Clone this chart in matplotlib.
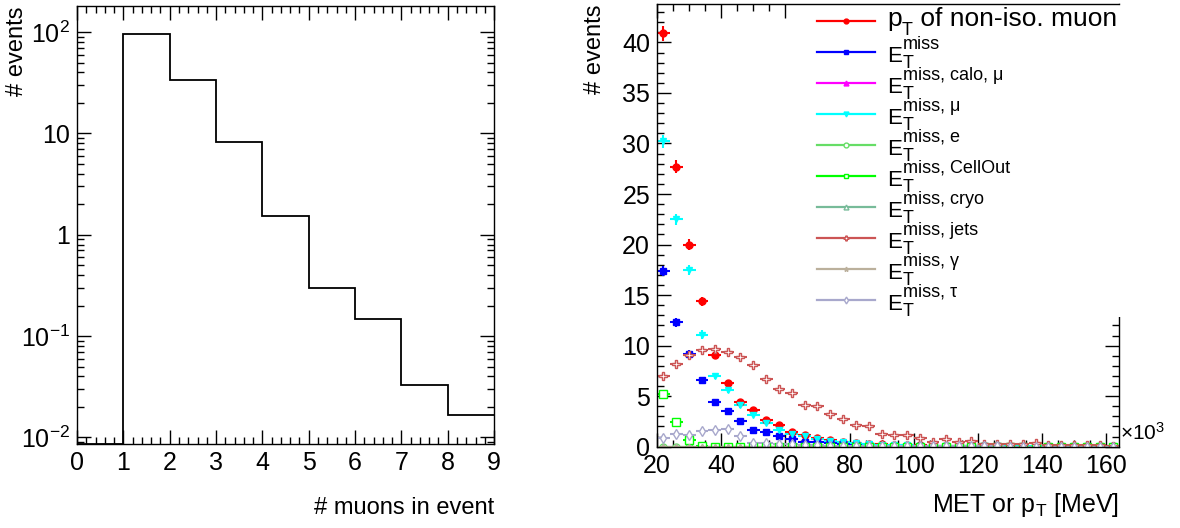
import numpy as np
import matplotlib
matplotlib.use('Agg')
import matplotlib.pyplot as plt
from matplotlib.ticker import MultipleLocator, FixedLocator, FixedFormatter, LogLocator, NullFormatter, FuncFormatter
from matplotlib.lines import Line2D
from matplotlib.patches import Rectangle

plt.rcParams['font.family'] = ['Liberation Sans', 'DejaVu Sans']
plt.rcParams['mathtext.default'] = 'regular'

# muon multiplicity per event
n_muons_edges = np.arange(0, 10)
n_muons_counts = [0.0, 95.0, 33.8, 8.15, 1.53, 0.30, 0.149, 0.033, 0.0166]
log_ticks = [1e-2, 1e-1, 1, 10, 100]
log_labels = ['$10^{-2}$', '$10^{-1}$', '1', '10', '$10^{2}$']

# MET components and muon pT, 4 GeV bins from 20 to 164 GeV (values in MeV)
met_edges = np.arange(20e3, 164e3 + 1, 4e3)
event_weight = 0.0144

pt_muon = [40.9, 27.7, 20.0, 14.4, 9.1, 6.3, 4.4, 3.6, 2.6, 2.1, 1.45, 1.2,
           0.9, 0.7, 0.5, 0.4, 0.3, 0.25, 0.2, 0.15, 0.12, 0.1, 0.1, 0.08,
           0.06, 0.05, 0.05, 0.04, 0.04, 0.03, 0.05, 0.03, 0.02, 0.02, 0.02, 0.02]
met_total = [17.4, 12.3, 9.2, 6.6, 4.4, 3.5, 2.5, 1.65, 1.5, 1.05, 0.75, 0.5,
             0.45, 0.35, 0.25, 0.2, 0.15, 0.1, 0.08, 0.06, 0.05, 0.04, 0.03, 0.03,
             0.02, 0.02, 0.02, 0.01, 0.01, 0.01, 0.01, 0.01, 0.0, 0.0, 0.0, 0.0]
met_calo_mu = [0.0] * 36
met_mu = [30.2, 22.5, 17.5, 11.1, 7.0, 5.6, 4.1, 3.1, 2.3, 1.7, 1.3, 1.05,
          0.75, 0.6, 0.5, 0.35, 0.25, 0.2, 0.15, 0.12, 0.1, 0.08, 0.07, 0.06,
          0.05, 0.05, 0.04, 0.04, 0.03, 0.03, 0.03, 0.03, 0.02, 0.02, 0.02, 0.02]
met_e = [0.0] * 36
met_cellout = [5.2, 2.4, 0.65, 0.07, 0.0, 0.0, 0.0, 0.0, 0.0, 0.0, 0.0, 0.0,
               0.0, 0.0, 0.0, 0.0, 0.0, 0.0, 0.0, 0.0, 0.0, 0.0, 0.0, 0.0,
               0.0, 0.0, 0.0, 0.0, 0.0, 0.0, 0.0, 0.0, 0.0, 0.0, 0.0, 0.0]
met_cryo = [0.0] * 36
met_jets = [7.0, 8.2, 9.05, 9.6, 9.7, 9.4, 8.9, 8.1, 6.7, 5.7, 5.3, 4.15,
            4.0, 3.2, 2.7, 2.1, 2.05, 1.25, 1.2, 1.2, 0.9, 0.5, 0.75, 0.43,
            0.55, 0.25, 0.22, 0.22, 0.22, 0.32, 0.15, 0.2, 0.15, 0.15, 0.15, 0.1]
met_gamma = [0.0] * 36
met_tau = [0.9, 1.25, 1.15, 1.6, 1.65, 1.75, 1.05, 0.4, 0.35, 0.3, 0.25, 0.2,
           0.15, 0.1, 0.1, 0.08, 0.05, 0.05, 0.04, 0.03, 0.03, 0.02, 0.02, 0.02,
           0.02, 0.02, 0.02, 0.01, 0.01, 0.01, 0.01, 0.01, 0.01, 0.01, 0.01, 0.01]

# legend text: (base, subscript, superscript, rest)
legend_parts = [('p', 'T', '', ' of non-iso. muon'),
                ('E', 'T', 'miss', ''),
                ('E', 'T', 'miss, calo, μ', ''),
                ('E', 'T', 'miss, μ', ''),
                ('E', 'T', 'miss, e', ''),
                ('E', 'T', 'miss, CellOut', ''),
                ('E', 'T', 'miss, cryo', ''),
                ('E', 'T', 'miss, jets', ''),
                ('E', 'T', 'miss, γ', ''),
                ('E', 'T', 'miss, τ', '')]
colors = ['#ff0000', '#0000ff', '#ff00ff', '#00ffff', '#66dd66',
          '#00ff00', '#77bb99', '#cc5555', '#bbb09c', '#a8a8cc']
markers = ['o', 's', '^', 'v', 'o', 's', '^', 'P', '*', 'd']
filled = [True, True, True, True, False, False, False, False, True, False]
msizes = [5, 5, 4.5, 5, 5, 6, 5, 6, 4, 5]

all_series = [pt_muon, met_total, met_calo_mu, met_mu, met_e,
              met_cellout, met_cryo, met_jets, met_gamma, met_tau]

fig = plt.figure(figsize=(11.8, 5.28), dpi=100)

# ---- left: number of muons ----
ax1 = fig.add_axes([0.0653, 0.1591, 0.3534, 0.8295])
ymin1, ymax1 = 0.0086, 181
draw_counts = np.clip(n_muons_counts, ymin1 * 0.999, None)
ax1.stairs(draw_counts, n_muons_edges, color='black', lw=1.3, baseline=None)
ax1.set_yscale('log')
ax1.set_xlim(0, 9)
ax1.set_ylim(ymin1, ymax1)
ax1.xaxis.set_major_locator(MultipleLocator(1))
ax1.xaxis.set_minor_locator(MultipleLocator(0.2))
ax1.yaxis.set_major_locator(FixedLocator(log_ticks))
ax1.yaxis.set_major_formatter(FixedFormatter(log_labels))
ax1.yaxis.set_minor_locator(LogLocator(base=10, subs=np.arange(2, 10)))
ax1.yaxis.set_minor_formatter(NullFormatter())
ax1.set_xlabel('# muons in event', fontsize=17, loc='right')
ax1.xaxis.set_label_coords(1.0, -0.121)
ax1.set_ylabel('# events', fontsize=17, loc='top')
ax1.yaxis.set_label_coords(-0.118, 1.0)

# ---- right: MET components ----
ax2 = fig.add_axes([0.5568, 0.154, 0.3915, 0.8384])
centers = 0.5 * (met_edges[:-1] + met_edges[1:])
half_w = 0.5 * (met_edges[1] - met_edges[0])
for vals, col, mk, fl, ms in zip(all_series, colors, markers, filled, msizes):
    v = np.asarray(vals)
    ax2.errorbar(centers, v, xerr=half_w, yerr=np.sqrt(v * event_weight),
                 fmt=mk, color=col, ms=ms, mfc=col if fl else 'white',
                 mec=col, mew=1.0, elinewidth=1.5, capsize=0)
ax2.set_xlim(met_edges[0], met_edges[-1])
ax2.set_ylim(0, 43.8)
ax2.xaxis.set_major_locator(MultipleLocator(20e3))
ax2.xaxis.set_minor_locator(MultipleLocator(5e3))
ax2.xaxis.set_major_formatter(FuncFormatter(lambda x, _: f'{x / 1e3:g}'))
ax2.yaxis.set_major_locator(MultipleLocator(5))
ax2.yaxis.set_minor_locator(MultipleLocator(1))
ax2.set_xlabel(r'MET or $p_{T}$ [MeV]', fontsize=18, loc='right')
ax2.xaxis.set_label_coords(1.0, -0.100)
ax2.set_ylabel('# events', fontsize=17, loc='top')
ax2.yaxis.set_label_coords(-0.110, 1.0)
ax2.text(1.002, 0.006, r'$\times10^{3}$', transform=ax2.transAxes,
         ha='left', va='bottom', fontsize=15)

for ax in (ax1, ax2):
    ax.tick_params(which='both', direction='in', top=True, right=True,
                   labelsize=18, width=1.0, pad=5)
    ax.tick_params(which='major', length=10)
    ax.tick_params(which='minor', length=5)
    for sp in ax.spines.values():
        sp.set_linewidth(1.0)

# legend box drawn by hand, white, no border, covering the right frame
ax2.spines['top'].set_zorder(6)
h_px = 442.7
ax2.add_patch(Rectangle((0.309, 1 - 313 / h_px), 0.70, 313 / h_px,
                        transform=ax2.transAxes, facecolor='white',
                        edgecolor='none', zorder=5, clip_on=False))
for i, ((base, sub, sup, rest), col, mk, fl) in enumerate(
        zip(legend_parts, colors, markers, filled)):
    yc = 1 - (17 + 31 * i) / h_px
    ax2.add_line(Line2D([0.346, 0.472], [yc, yc], transform=ax2.transAxes,
                        color=col, lw=1.6, zorder=6, clip_on=False))
    ax2.add_line(Line2D([0.409], [yc], transform=ax2.transAxes, marker=mk,
                        ms=3.5, color=col, mfc=col if fl else 'white', mec=col,
                        zorder=7, clip_on=False))
    anchor = (0.498, yc)
    kw = dict(xycoords='axes fraction', textcoords='offset points',
              va='baseline', ha='left', zorder=8, annotation_clip=False)
    if rest:
        # p_T entry: larger base text
        ax2.annotate(base, anchor, xytext=(0, -3.6), fontsize=19, **kw)
        ax2.annotate(sub, anchor, xytext=(10.6, -10.0), fontsize=13, **kw)
        ax2.annotate(rest, anchor, xytext=(18.4, -3.6), fontsize=19, **kw)
    else:
        ax2.annotate(base, anchor, xytext=(0, -7.4), fontsize=16, **kw)
        ax2.annotate(sub, anchor, xytext=(11.2, -11.8), fontsize=13, **kw)
        ax2.annotate(sup, anchor, xytext=(11.2, 2.4), fontsize=13, **kw)

fig.savefig('out.png', dpi=100)
